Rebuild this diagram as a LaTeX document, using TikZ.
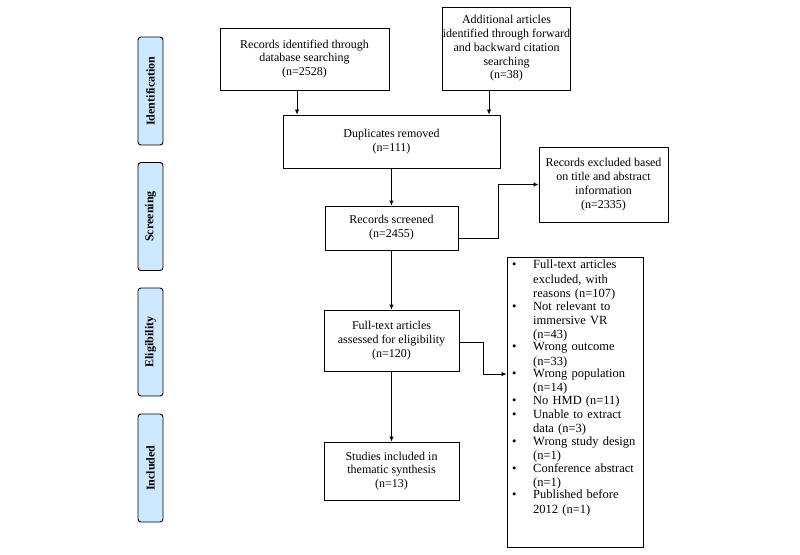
\documentclass[tikz,border=0pt]{standalone}
\usepackage{fontspec}
\setmainfont{Liberation Serif}
\usetikzlibrary{arrows.meta}
\definecolor{lblue}{RGB}{206,233,255}
\tikzset{
  box/.style={draw=black, line width=0.9pt, fill=white, align=center, inner sep=0pt, font=\fontsize{12}{13.8}\selectfont},
  phase/.style={draw=black, line width=0.9pt, fill=lblue, rounded corners=3pt, minimum width=25pt, minimum height=108pt, inner sep=0pt},
  phasetxt/.style={rotate=90, font=\fontsize{12}{13}\selectfont\bfseries},
  arr/.style={line width=0.9pt, -{Latex[length=5pt,width=4.5pt]}},
}
\newcommand{\bitem}[1]{\noindent\makebox[24pt][l]{\hspace{3pt}\textbullet}\parbox[t]{105pt}{\fontsize{12.5}{14.4}\selectfont #1}\par}
\begin{document}
\begin{tikzpicture}[x=1pt,y=-1pt]
\useasboundingbox (0,0) rectangle (800,554);
% phase labels
\node[phase] (pid) at (150.5,91) {};
\node[phasetxt] (tid) at (pid) {Identification};
\node[phase] (psc) at (150.5,216.5) {};
\node[phasetxt] (tsc) at (psc) {Screening};
\node[phase] (pel) at (150.5,342) {};
\node[phasetxt] (tel) at (pel) {Eligibility};
\node[phase] (pin) at (150.5,468) {};
\node[phasetxt] (tin) at (pin) {Included};
% boxes
\node[box, minimum width=169pt, minimum height=62pt] (rec) at (304.5,59) {Records identified through\\database searching\\(n=2528)};
\node[box, minimum width=125pt, minimum height=83pt] (add) at (506.5,48.5) {Additional articles\\identified through forward\\and backward citation\\searching\\(n=38)};
\node[box, minimum width=217pt, minimum height=53pt] (dup) at (391.5,141.5) {Duplicates removed\\(n=111)};
\node[box, minimum width=133pt, minimum height=44pt] (scr) at (391.5,228) {Records screened\\(n=2455)};
\node[box, minimum width=129pt, minimum height=75pt] (ex1) at (603.5,184.5) {Records excluded based\\on title and abstract\\information\\(n=2335)};
\node[box, minimum width=135pt, minimum height=61pt] (ft) at (391.5,340.5) {Full-text articles\\assessed for eligibility\\(n=120)};
\node[box, minimum width=135pt, minimum height=58pt] (inc) at (391.5,471) {Studies included in\\thematic synthesis\\(n=13)};
\node[box, minimum width=136pt, minimum height=290pt] (ex2) at (575,402) {};
\node[anchor=north west, inner sep=0pt, text width=132pt, align=left, font=\fontsize{12.5}{14.4}\selectfont] (lst) at (509,260) {%
\fontsize{12.5}{14.4}\selectfont
\bitem{Full-text articles\\excluded, with\\reasons (n=107)}
\bitem{Not relevant to\\immersive VR\\(n=43)}
\bitem{Wrong outcome\\(n=33)}
\bitem{Wrong population\\(n=14)}
\bitem{No HMD (n=11)}
\bitem{Unable to extract\\data (n=3)}
\bitem{Wrong study design\\(n=1)}
\bitem{Conference abstract\\(n=1)}
\bitem{Published before\\2012 (n=1)}};
% connectors
\draw[arr] (rec.south -| 297,0) -- (dup.north -| 297,0);
\draw[arr] (add.south -| 489,0) -- (dup.north -| 489,0);
\draw[arr] (dup.south) -- (scr.north);
\draw[arr] (scr.south) -- (ft.north);
\draw[arr] (ft.south) -- (inc.north);
\draw[arr] (scr.east |- 0,238) -- (498,238) |- (ex1.west);
\draw[arr] (ft.east |- 0,342) -- (483,342) |- (ex2.west |- 0,374);
\end{tikzpicture}
\end{document}
